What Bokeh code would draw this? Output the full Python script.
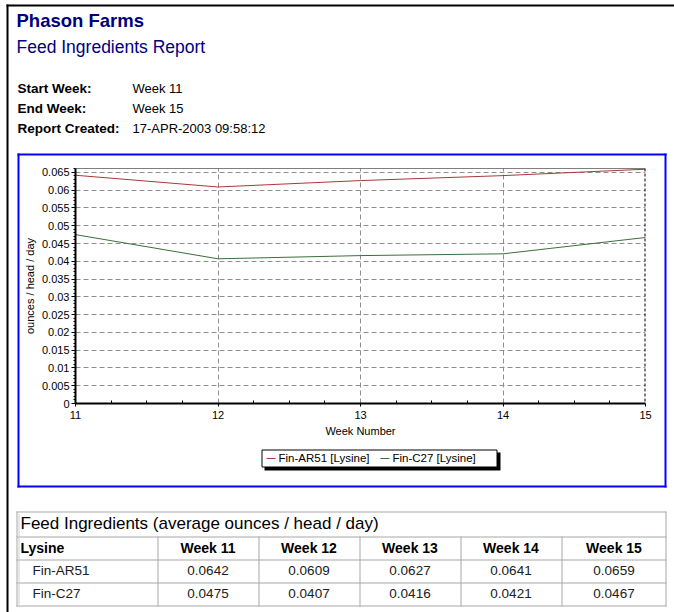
from bokeh.plotting import figure
from bokeh.models import Range1d, FixedTicker, CustomJSTickFormatter, Span
from bokeh.core.properties import value
from bokeh.embed import file_html
from bokeh.resources import INLINE

# ---------------- data ----------------
company = "Phason Farms"
report_title = "Feed Ingredients Report"
info_labels = ["Start Week:", "End Week:", "Report Created:"]
info_values = ["Week 11", "Week 15", "17-APR-2003 09:58:12"]

weeks = [11, 12, 13, 14, 15]
week_names = ["Week 11", "Week 12", "Week 13", "Week 14", "Week 15"]
fin_ar51 = [0.0642, 0.0609, 0.0627, 0.0641, 0.0659]
fin_c27 = [0.0475, 0.0407, 0.0416, 0.0421, 0.0467]
series_labels = ["Fin-AR51 [Lysine]", "Fin-C27 [Lysine]"]
series_colors = ["#a83838", "#3c6e3c"]
row_names = ["Fin-AR51", "Fin-C27"]
table_title = "Feed Ingredients (average ounces / head / day)"
table_group = "Lysine"

x_ticks = [11, 12, 13, 14, 15]
x_tick_labels = ["11", "12", "13", "14", "15"]
y_ticks = [0, 0.005, 0.01, 0.015, 0.02, 0.025, 0.03, 0.035, 0.04, 0.045,
           0.05, 0.055, 0.06, 0.065]
y_tick_labels = ["0", "0.005", "0.01", "0.015", "0.02", "0.025", "0.03",
                 "0.035", "0.04", "0.045", "0.05", "0.055", "0.06", "0.065"]
x_label = "Week Number"
y_label = "ounces / head / day"

# ---------------- layout (page pixel coordinates) ----------------
W, H = 674, 612
FL, FR, FT, FB = 75, 645, 168, 403
Y_MAX = 0.0661
FONT = "Liberation Sans"
NAVY = "#000080"
GRID = "#909090"
TABLE_LINE = "#a8a8a8"
BASELINE_SHIFT = 0.37   # em fraction to place the alphabetic baseline where wanted

p = figure(width=W, height=H, x_range=Range1d(11, 15), y_range=Range1d(0, Y_MAX),
           output_backend="svg", toolbar_location=None,
           min_border_left=FL, min_border_right=W - FR,
           min_border_top=FT, min_border_bottom=H - FB)
p.extra_x_ranges = {"page": Range1d(FL, FR)}
p.extra_y_ranges = {"page": Range1d(FB, FT)}
p.outline_line_color = None
p.background_fill_color = "white"
p.border_fill_color = "white"

# axes
x_minor = [w + q / 4 for w in weeks[:-1] for q in (1, 2, 3)]
y_minor = [i / 1000 for i in range(0, 67) if i % 5]
xt = FixedTicker(ticks=x_ticks, minor_ticks=x_minor)
yt = FixedTicker(ticks=y_ticks, minor_ticks=y_minor)
lookup = ("let b=0; for (let i=0;i<vals.length;i++){ if (Math.abs(vals[i]-tick) < "
          "Math.abs(vals[b]-tick)) b=i; } return labs[b];")
xa, ya = p.xaxis[0], p.yaxis[0]
xa.ticker = xt
ya.ticker = yt
p.xgrid.ticker = xt
p.ygrid.ticker = yt
xa.formatter = CustomJSTickFormatter(args=dict(vals=x_ticks, labs=x_tick_labels), code=lookup)
ya.formatter = CustomJSTickFormatter(args=dict(vals=y_ticks, labs=y_tick_labels), code=lookup)
for ax in (xa, ya):
    ax.axis_line_color = "black"
    ax.axis_line_width = 2
    ax.major_tick_line_color = "black"
    ax.minor_tick_line_color = "black"
    ax.major_label_text_font = FONT
    ax.major_label_text_font_size = "11px"
    ax.major_label_text_color = "black"
    ax.axis_label_text_font = FONT
    ax.axis_label_text_font_size = "11px"
    ax.axis_label_text_font_style = "normal"
    ax.axis_label_text_color = "black"
xa.axis_label = x_label
ya.axis_label = y_label
xa.major_tick_out = 3
xa.major_tick_in = 0
xa.minor_tick_in = 3
xa.minor_tick_out = 0
xa.major_label_standoff = 4
xa.axis_label_standoff = 3
ya.major_tick_out = 4
ya.major_tick_in = 0
ya.minor_tick_in = 0
ya.minor_tick_out = 2
ya.major_label_standoff = 2
ya.axis_label_standoff = 3

for g in (p.xgrid, p.ygrid):
    g.grid_line_color = GRID
    g.grid_line_dash = "5 3"
    g.grid_line_width = 1

p.add_layout(Span(location=Y_MAX, dimension="width", line_color="black", line_width=1))
p.add_layout(Span(location=15, dimension="height", line_color="black", line_width=2,
                  line_dash="3 2"))

p.line(weeks, fin_ar51, line_color=series_colors[0], line_width=1)
p.line(weeks, fin_c27, line_color=series_colors[1], line_width=1)


def box(l, t, r, b, color, line=None):
    p.quad(left=[l], right=[r], top=[t], bottom=[b],
           x_range_name="page", y_range_name="page", level="overlay",
           fill_color=color, fill_alpha=1, line_color=line, line_width=1)


def text(x, y, s, size, bold=False, color="black", align="left"):
    y = y - BASELINE_SHIFT * size
    p.text(x=[x], y=[y], text=[s], x_range_name="page", y_range_name="page",
           level="overlay", text_font=value(FONT), text_font_size=value(f"{size}px"),
           text_font_style=value("bold" if bold else "normal"),
           text_color=value(color), text_align=value(align),
           text_baseline=value("alphabetic"))


# page frame lines
box(6, 4, 8, H, "black")
box(6, 4, W, 6, "black")

# header
text(16, 27, company, 18.5, bold=True, color=NAVY)
text(16, 53, report_title, 17.5, color=NAVY)
for i, (lab, val) in enumerate(zip(info_labels, info_values)):
    text(17, 93 + 20 * i, lab, 13.5, bold=True)
    text(132, 93 + 20 * i, val, 13)

# blue chart box
BL, BR, BT, BB = 17, 666, 153, 487
box(BL, BT, BR, BT + 2, "#0000ff")
box(BL, BB - 2, BR, BB, "#0000ff")
box(BL, BT, BL + 2, BB, "#0000ff")
box(BR - 2, BT, BR, BB, "#0000ff")

# legend (shadowed box, key lines and labels)
LGL, LGT, LGW, LGH = 261, 449, 236, 18
box(LGL + 3, LGT + 3, LGL + LGW + 3, LGT + LGH + 3, "black")
box(LGL + 0.5, LGT + 0.5, LGL + LGW - 0.5, LGT + LGH - 0.5, "white", line="black")
item_x = [LGL + 5, LGL + 119]
for ix, lab, col in zip(item_x, series_labels, series_colors):
    p.segment(x0=[ix], y0=[LGT + LGH / 2], x1=[ix + 9], y1=[LGT + LGH / 2],
              x_range_name="page", y_range_name="page", level="overlay",
              line_color=col, line_width=1)
    text(ix + 12, LGT + 13, lab, 11.5)

# table
TL, TR, TT = 16, 666, 511
row_lines = [536, 559, 582, 605]
col_lines = [157, 258, 359, 460, 561]
box(TL, TT, TR, TT + 1, TABLE_LINE)
for y in row_lines:
    box(TL, y, TR, y + 1, TABLE_LINE)
box(TL, TT, TL + 1, row_lines[-1] + 1, TABLE_LINE)
box(TL + 2, TT + 2, TL + 3, row_lines[-1] - 1, "#d0d0d0")
box(TR - 1, TT, TR, row_lines[-1] + 1, TABLE_LINE)
for x in col_lines:
    box(x, row_lines[0], x + 1, row_lines[-1] + 1, TABLE_LINE)

text(20, 529.5, table_title, 17)
text(20, 552.5, table_group, 14, bold=True)
edges = col_lines + [TR]
centers = [(edges[i] + edges[i + 1]) / 2 for i in range(len(week_names))]
for c, wn in zip(centers, week_names):
    text(c, 552.5, wn, 14, bold=True, align="center")
for j, (name, vals) in enumerate(zip(row_names, [fin_ar51, fin_c27])):
    yb = 575 + 23 * j
    text(32, yb, name, 13.5, color="#202020")
    for c, v in zip(centers, vals):
        text(c, yb, f"{v:.4f}", 13.5, color="#202020", align="center")

open("out.html", "w").write(file_html(p, INLINE))
